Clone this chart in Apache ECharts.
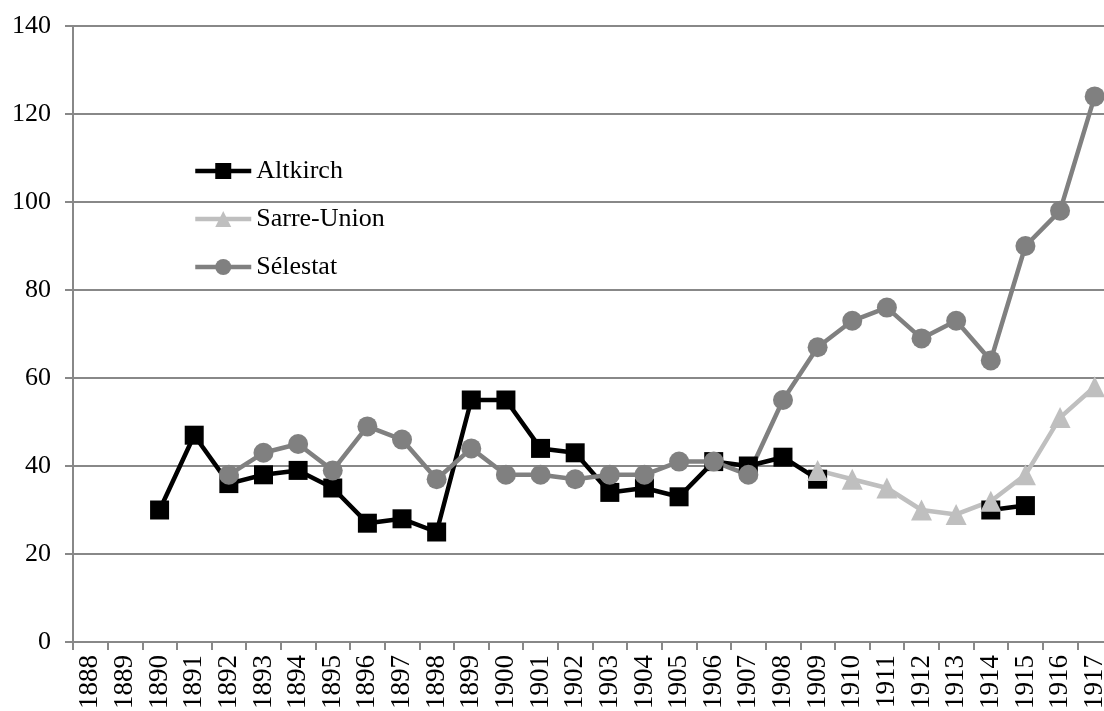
<!DOCTYPE html>
<html>
<head>
<meta charset="utf-8">
<script src="https://cdn.jsdelivr.net/npm/echarts@6/dist/echarts.min.js"></script>
<style>
  html, body { margin: 0; padding: 0; background: #fff; }
  #chart { width: 1104px; height: 711px; }
</style>
</head>
<body>
<div id="chart"></div>
<script>
// années
const years = ['1888', '1889', '1890', '1891', '1892', '1893', '1894', '1895', '1896', '1897',
  '1898', '1899', '1900', '1901', '1902', '1903', '1904', '1905', '1906', '1907',
  '1908', '1909', '1910', '1911', '1912', '1913', '1914', '1915', '1916', '1917'];

// valeurs (null = pas de donnée)
const altkirch = [null, null, 30, 47, 36, 38, 39, 35, 27, 28,
  25, 55, 55, 44, 43, 34, 35, 33, 41, 40,
  42, 37, null, null, null, null, 30, 31, null, null];
const sarreUnion = [null, null, null, null, null, null, null, null, null, null,
  null, null, null, null, null, null, null, null, null, null,
  null, 39, 37, 35, 30, 29, 32, 38, 51, 58];
const selestat = [null, null, null, null, 38, 43, 45, 39, 49, 46,
  37, 44, 38, 38, 37, 38, 38, 41, 41, 38,
  55, 67, 73, 76, 69, 73, 64, 90, 98, 124];

const yTicks = [0, 20, 40, 60, 80, 100, 120, 140];

const font = 'Liberation Serif';
const axisGray = '#888888';

var myChart = echarts.init(document.getElementById('chart'));

function lineSeries(name, data, color, symbol, size) {
  return {
    name: name,
    type: 'line',
    data: data,
    connectNulls: false,
    symbol: symbol,
    symbolSize: size,
    lineStyle: { color: color, width: 4.5 },
    itemStyle: { color: color },
    emphasis: { disabled: true },
    animation: false
  };
}

myChart.setOption({
  animation: false,
  textStyle: { fontFamily: font },
  grid: {
    left: 73,
    top: 26,
    right: -8,
    bottom: 69,
    containLabel: false,
    outerBoundsMode: 'none'
  },
  legend: {
    orient: 'vertical',
    left: 188,
    top: 153,
    itemWidth: 56,
    itemHeight: 20,
    itemGap: 22,
    lineStyle: { width: 4.5 },
    textStyle: { fontFamily: font, fontSize: 26, color: '#000' },
    data: ['Altkirch', 'Sarre-Union', 'Sélestat']
  },
  xAxis: {
    type: 'category',
    data: years,
    boundaryGap: true,
    axisLine: { lineStyle: { color: axisGray, width: 2 } },
    axisTick: { show: true, alignWithLabel: false, length: 8, lineStyle: { color: axisGray, width: 2 } },
    axisLabel: {
      rotate: 90,
      interval: 0,
      margin: 13,
      fontFamily: font,
      fontSize: 27,
      color: '#000'
    },
    splitLine: { show: false }
  },
  yAxis: {
    type: 'value',
    min: yTicks[0],
    max: yTicks[yTicks.length - 1],
    interval: 20,
    axisLine: { show: true, lineStyle: { color: axisGray, width: 2 } },
    axisTick: { show: true, length: 8, lineStyle: { color: axisGray, width: 2 } },
    axisLabel: {
      margin: 22,
      fontFamily: font,
      fontSize: 26,
      color: '#000'
    },
    splitLine: { show: true, lineStyle: { color: axisGray, width: 2 } }
  },
  series: [
    lineSeries('Altkirch', altkirch, '#000000', 'rect', 19),
    lineSeries('Sarre-Union', sarreUnion, '#bfbfbf', 'triangle', 21),
    lineSeries('Sélestat', selestat, '#808080', 'circle', 20)
  ]
});
</script>
</body>
</html>
